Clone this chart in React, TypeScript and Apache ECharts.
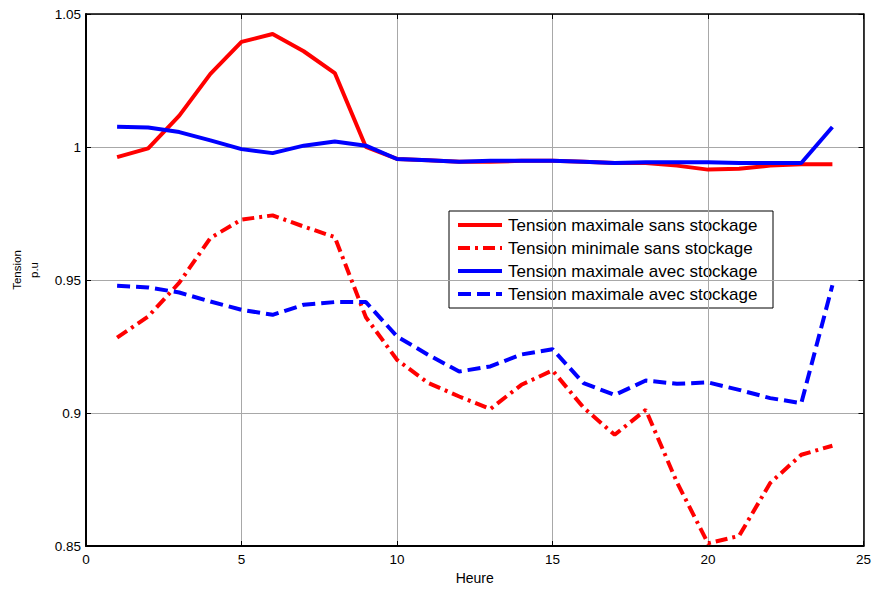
import React, { useEffect, useRef } from "react";
import * as echarts from "echarts";

const hours = [1, 2, 3, 4, 5, 6, 7, 8, 9, 10, 11, 12, 13, 14, 15, 16, 17, 18, 19, 20, 21, 22, 23, 24];
const maxSans = [0.9962, 0.9995, 1.0118, 1.0275, 1.0395, 1.0425, 1.036, 1.0278, 1.0, 0.9955, 0.995, 0.9945, 0.9945, 0.9948, 0.9948, 0.9945, 0.994, 0.994, 0.993, 0.9915, 0.9918, 0.993, 0.9935, 0.9935];
const minSans = [0.9283, 0.9363, 0.949, 0.9658, 0.9727, 0.9743, 0.9701, 0.9661, 0.936, 0.92, 0.9113, 0.9062, 0.9015, 0.9106, 0.916, 0.902, 0.8918, 0.9012, 0.874, 0.851, 0.8538, 0.8737, 0.8843, 0.8877];
const maxAvec = [1.0076, 1.0073, 1.0056, 1.0025, 0.9992, 0.9977, 1.0005, 1.0021, 1.0005, 0.9955, 0.995, 0.9945, 0.9948, 0.9948, 0.9948, 0.9945, 0.994, 0.9943, 0.9943, 0.9943, 0.994, 0.994, 0.994, 1.0075];
const maxAvecDash = [0.9478, 0.9472, 0.9453, 0.9419, 0.9388, 0.9369, 0.9407, 0.9417, 0.9417, 0.9288, 0.9219, 0.9156, 0.9175, 0.922, 0.924, 0.9112, 0.9068, 0.9122, 0.911, 0.9115, 0.9087, 0.9056, 0.9037, 0.948];
const legendNames = [
  "Tension maximale sans stockage",
  "Tension minimale sans stockage",
  "Tension maximale avec stockage",
  "Tension maximale avec stockage",
];

const FONT = "'Liberation Sans', Arial, sans-serif";
const RED = "#ff0000";
const BLUE = "#0000ff";
const DASHDOT = [12, 5, 3, 5];
const DASH = [13, 6];

export default function App() {
  const ref = useRef<HTMLDivElement>(null);
  useEffect(() => {
    if (!ref.current) return;
    const chart = echarts.init(ref.current, null, { renderer: "svg" });
    const pair = (ys: number[]) => hours.map((h, i) => [h, ys[i]]);
    const styles = [
      { color: RED, type: "solid" as any },
      { color: RED, type: DASHDOT as any },
      { color: BLUE, type: "solid" as any },
      { color: BLUE, type: DASH as any },
    ];
    const datasets = [maxSans, minSans, maxAvec, maxAvecDash];
    const legendX = 449, legendY = 211, rowH = 23;
    const legendChildren: any[] = [
      {
        type: "rect",
        shape: { x: legendX, y: legendY, width: 324, height: 97 },
        style: { fill: "#fff", stroke: "#000", lineWidth: 1 },
      },
    ];
    legendNames.forEach((n, i) => {
      const cy = legendY + 14 + i * rowH;
      legendChildren.push({
        type: "line",
        shape: { x1: legendX + 9, y1: cy, x2: legendX + 53, y2: cy },
        style: {
          stroke: styles[i].color,
          lineWidth: 4,
          lineDash: styles[i].type === "solid" ? null : styles[i].type,
        },
      });
      legendChildren.push({
        type: "text",
        x: legendX + 59,
        y: cy,
        style: {
          text: n,
          fontSize: 17,
          fontFamily: FONT,
          fill: "#000",
          verticalAlign: "middle",
          align: "left",
        },
      });
    });

    const grid = { left: 85, top: 14, right: 9, bottom: 47 };
    const labelStyle = { fontSize: 13.5, fontFamily: FONT, color: "#000" };
    chart.setOption({
      animation: false,
      backgroundColor: "#fff",
      grid,
      xAxis: [
        {
          type: "value",
          min: 0,
          max: 25,
          interval: 5,
          name: "Heure",
          nameLocation: "middle",
          nameGap: 24,
          nameTextStyle: { fontSize: 14, fontFamily: FONT, color: "#000" },
          axisLine: { show: true, onZero: false, lineStyle: { color: "#000", width: 2 } },
          axisTick: { show: true, inside: true, length: 5, lineStyle: { color: "#000" } },
          axisLabel: { ...labelStyle, margin: 6 },
          splitLine: { show: true, lineStyle: { color: "#a8a8a8", width: 1 } },
        },
        {
          type: "value",
          position: "top",
          min: 0,
          max: 25,
          interval: 5,
          axisLine: { show: true, onZero: false, lineStyle: { color: "#000", width: 1.5 } },
          axisTick: { show: true, inside: true, length: 5, lineStyle: { color: "#000" } },
          axisLabel: { show: false },
          splitLine: { show: false },
        },
      ],
      yAxis: [
        {
          type: "value",
          min: 0.85,
          max: 1.05,
          interval: 0.05,
          name: "Tension\np.u",
          nameLocation: "middle",
          nameRotate: 90,
          nameGap: 44,
          nameTextStyle: {
            fontSize: 11.5,
            lineHeight: 17,
            fontFamily: FONT,
            color: "#000",
            padding: [0, 0, 0, 20],
          },
          axisLine: { show: true, onZero: false, lineStyle: { color: "#000", width: 2 } },
          axisTick: { show: true, inside: true, length: 5, lineStyle: { color: "#000" } },
          axisLabel: {
            ...labelStyle,
            margin: 5,
            formatter: (v: number) => String(+v.toFixed(2)),
          },
          splitLine: { show: true, lineStyle: { color: "#a8a8a8", width: 1 } },
        },
        {
          type: "value",
          position: "right",
          min: 0.85,
          max: 1.05,
          interval: 0.05,
          axisLine: { show: true, onZero: false, lineStyle: { color: "#000", width: 1.5 } },
          axisTick: { show: true, inside: true, length: 5, lineStyle: { color: "#000" } },
          axisLabel: { show: false },
          splitLine: { show: false },
        },
      ],
      series: datasets.map((d, i) => ({
        id: "s" + i,
        name: legendNames[i],
        type: "line",
        xAxisIndex: 0,
        yAxisIndex: 0,
        data: pair(d),
        symbol: "none",
        showSymbol: false,
        lineStyle: { color: styles[i].color, width: 4, type: styles[i].type },
        itemStyle: { color: styles[i].color },
        z: 2 + i,
      })),
      graphic: [{ type: "group", z: 100, children: legendChildren }],
    });
    return () => chart.dispose();
  }, []);
  return (
    <div
      ref={ref}
      style={{ position: "absolute", left: 0, top: 0, width: 874, height: 593, background: "#fff" }}
    />
  );
}
